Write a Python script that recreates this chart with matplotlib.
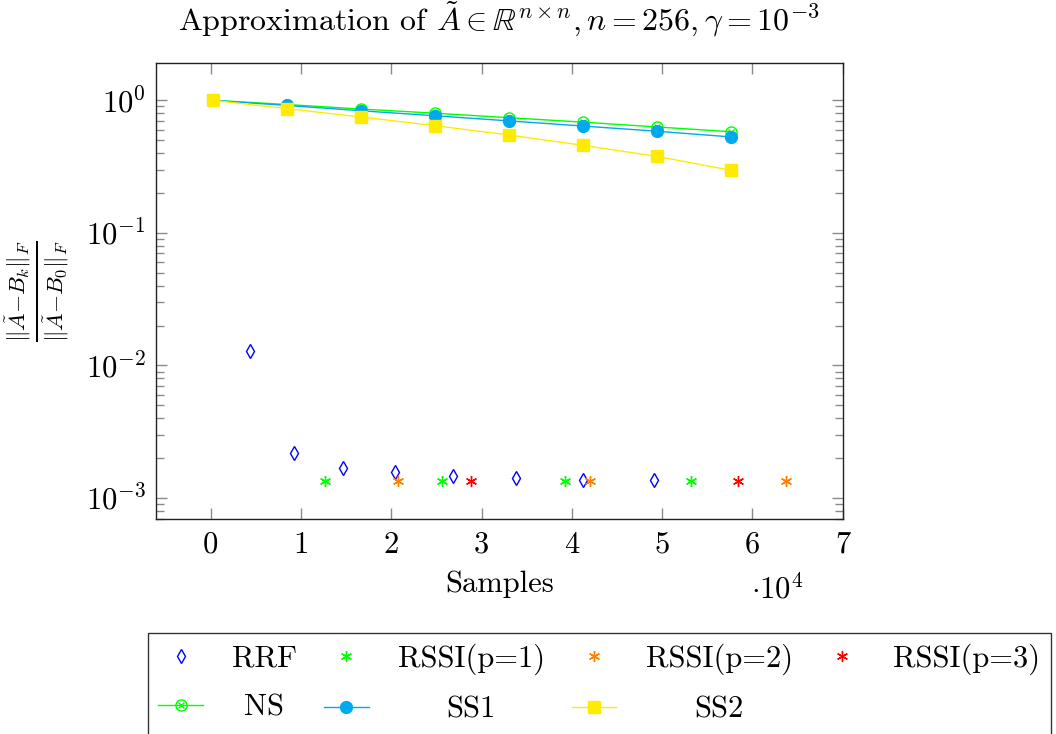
import numpy as np
import matplotlib
matplotlib.use("Agg")
import matplotlib.pyplot as plt
from matplotlib.ticker import FuncFormatter, LogLocator, NullFormatter, MultipleLocator
from matplotlib.legend_handler import HandlerTuple

matplotlib.rcParams['font.family'] = 'serif'
matplotlib.rcParams['font.serif'] = ['cmr10']
matplotlib.rcParams['mathtext.fontset'] = 'cm'
matplotlib.rcParams['axes.formatter.use_mathtext'] = True
matplotlib.rcParams['font.size'] = 22

# data
samples_ss = [256, 8448, 16640, 24832, 33024, 41216, 49408, 57600]
err_ns = [1.0, 0.93, 0.86, 0.80, 0.74, 0.685, 0.63, 0.58]
err_ss1 = [1.0, 0.915, 0.835, 0.765, 0.70, 0.64, 0.585, 0.53]
err_ss2 = [1.0, 0.866, 0.749, 0.644, 0.548, 0.458, 0.378, 0.297]

samples_rrf = [4400, 9200, 14600, 20440, 26870, 33800, 41220, 49130]
err_rrf = [0.01275, 0.0022, 0.00169, 0.00156, 0.00147, 0.00141, 0.00138, 0.00137]

samples_rssi1 = [12620, 25580, 39190, 53190]
err_rssi1 = [0.00134, 0.00134, 0.00134, 0.00134]
samples_rssi2 = [20780, 42010, 63680]
err_rssi2 = [0.00134, 0.00134, 0.00134]
samples_rssi3 = [28850, 58390]
err_rssi3 = [0.00134, 0.00134]

c_green = '#00ff00'
c_cyan = '#00a9ec'
c_yellow = '#ffeb00'
c_orange = '#ff8000'
c_red = '#ff0000'
c_blue = '#0000ff'
lw = 1.0
aster = (6, 2, 0)

fig = plt.figure(figsize=(10.56, 7.34), dpi=100)
ax = fig.add_axes([155.7/1056, 1-519/734, (842.7-155.7)/1056, (519-62.7)/734])

h_rrf, = ax.plot(samples_rrf, err_rrf, ls='none', marker='d', ms=7.5, mfc='none', mec=c_blue, mew=1.0)
h_r1, = ax.plot(samples_rssi1, err_rssi1, ls='none', marker=aster, ms=8, mec=c_green, mew=1.0)
h_r2, = ax.plot(samples_rssi2, err_rssi2, ls='none', marker=aster, ms=8, mec=c_orange, mew=1.0)
h_r3, = ax.plot(samples_rssi3, err_rssi3, ls='none', marker=aster, ms=8, mec=c_red, mew=1.0)

h_ns1, = ax.plot(samples_ss, err_ns, '-', color=c_green, lw=lw, marker='o', ms=8, mfc='none', mec=c_green, mew=1.0)
h_ns2, = ax.plot(samples_ss, err_ns, ls='none', marker='x', ms=5, mec=c_green, mew=1.0)
h_ss1, = ax.plot(samples_ss, err_ss1, '-', color=c_cyan, lw=lw, marker='o', ms=8.5, mfc=c_cyan, mec=c_cyan)
h_ss2, = ax.plot(samples_ss, err_ss2, '-', color=c_yellow, lw=lw, marker='s', ms=8, mfc=c_yellow, mec=c_yellow)

ax.set_yscale('log')
ax.set_xlim(-6100, 70000)
ax.set_ylim(10**-3.158, 10**0.284)
ax.xaxis.set_major_locator(MultipleLocator(10000))
ax.xaxis.set_major_formatter(FuncFormatter(lambda v, p: '%g' % (v/1e4)))
ax.yaxis.set_major_locator(LogLocator(base=10, numticks=10))
ax.yaxis.set_minor_locator(LogLocator(base=10, subs=np.arange(2, 10), numticks=20))
ax.yaxis.set_minor_formatter(NullFormatter())

ax.tick_params(which='both', direction='in', top=True, right=True, color='#8a8a8a', width=1.0)
ax.tick_params(which='major', length=8, pad=9)
ax.tick_params(which='minor', length=5.5)
ax.tick_params(axis='y', pad=7)
for s in ax.spines.values():
    s.set_color('#222222')
    s.set_linewidth(1.0)

ax.set_xlabel('Samples', labelpad=8)
ylab = ax.set_ylabel(r'$\frac{\|\tilde{A}{-}B_k\|_F}{\|\tilde{A}{-}B_0\|_F}$', fontsize=24)
ylab.set_va('center')
ax.yaxis.set_label_coords(-0.172, 0.5)
ax.set_title(r'Approximation of $\tilde{A} \in \mathbb{R}^{n\times n}, n = 256, \gamma = 10^{-3}$',
             fontsize=23, pad=23)
ax.text(0.904, -0.153, r'$\cdot 10^4$', transform=ax.transAxes, ha='center', va='center')

handles = [h_rrf, (h_ns1, h_ns2), h_r1, h_ss1, h_r2, h_ss2, h_r3]
labels = ['RRF', 'NS', 'RSSI(p=1)', 'SS1', 'RSSI(p=2)', 'SS2', 'RSSI(p=3)']
leg = fig.legend(handles, labels, ncol=4, loc='upper left', fontsize=22,
                 bbox_to_anchor=(147.7/1056, 1-633/734), borderaxespad=0,
                 handlelength=1.45, handletextpad=0.95, columnspacing=0.9,
                 labelspacing=0.7, borderpad=0.35, fancybox=False,
                 edgecolor='#333333', framealpha=1,
                 handler_map={tuple: HandlerTuple(ndivide=1)})
leg.get_frame().set_linewidth(1.0)

# center the labels inside each legend column, like pgfplots does
fig.canvas.draw()
r = fig.canvas.get_renderer()
texts = leg.get_texts()
for col in [(0, 1), (2, 3), (4, 5), (6,)]:
    widths = [texts[i].get_window_extent(r).width for i in col]
    mw = max(widths)
    for i, w in zip(col, widths):
        texts[i].set_x((mw - w) / 2)

plt.savefig('out.png', dpi=100)
plt.close()
